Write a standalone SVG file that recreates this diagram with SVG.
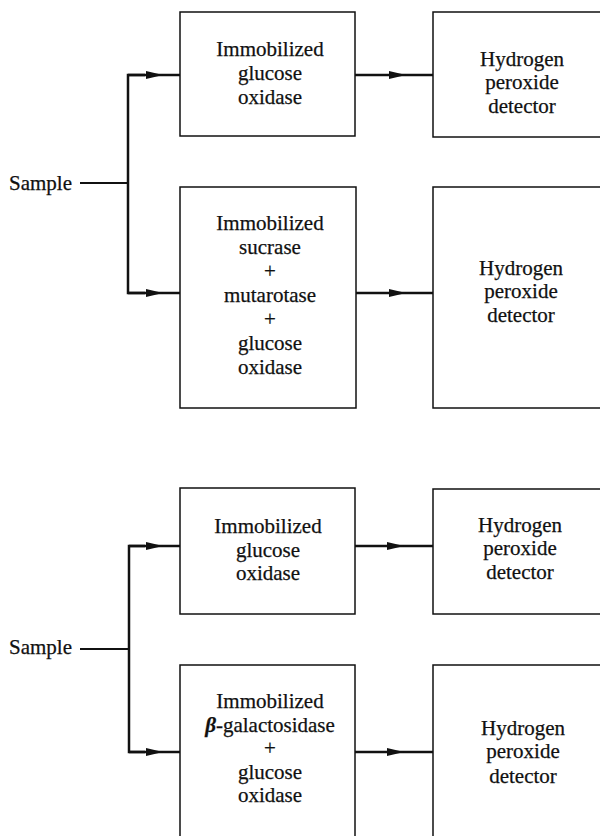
<svg xmlns="http://www.w3.org/2000/svg" width="600" height="836" viewBox="0 0 600 836">
<style>
.box{fill:none;stroke:#111;stroke-width:1.5}
.t{font-family:"Liberation Serif","Times New Roman",serif;font-size:21px;fill:#111;stroke:#111;stroke-width:0.25;text-anchor:middle}
.s{font-family:"Liberation Serif","Times New Roman",serif;font-size:21px;fill:#111;stroke:#111;stroke-width:0.25}
.c{fill:none;stroke:#111;stroke-width:2.5}
.l{fill:none;stroke:#111;stroke-width:1.8}
</style>
<defs>
<marker id="ah" markerWidth="18" markerHeight="8" refX="17" refY="4" orient="auto" markerUnits="userSpaceOnUse">
<path d="M0,0 L17,4 L0,8 Z" fill="#111"/>
</marker>
</defs>
<rect width="600" height="836" fill="#fff"/>

<g id="sample1"><text class="s" x="9" y="190">Sample</text></g>
<g id="enz1"><rect class="box" x="180" y="12" width="175" height="124"/>
<text class="t" x="270" y="56">Immobilized</text><text class="t" x="270" y="80">glucose</text><text class="t" x="270" y="104">oxidase</text></g>
<g id="det1"><rect class="box" x="433" y="12" width="180" height="125"/>
<text class="t" x="522" y="66">Hydrogen</text><text class="t" x="522" y="89">peroxide</text><text class="t" x="522" y="113">detector</text></g>
<g id="enz2"><rect class="box" x="180" y="187" width="176" height="221"/>
<text class="t" x="270" y="230">Immobilized</text><text class="t" x="270" y="254">sucrase</text><text class="t" x="270" y="278">+</text><text class="t" x="270" y="302">mutarotase</text><text class="t" x="270" y="326">+</text><text class="t" x="270" y="350">glucose</text><text class="t" x="270" y="374">oxidase</text></g>
<g id="det2"><rect class="box" x="433" y="187" width="180" height="221"/>
<text class="t" x="521" y="275">Hydrogen</text><text class="t" x="521" y="298">peroxide</text><text class="t" x="521" y="322">detector</text></g>

<g id="sample2"><text class="s" x="9" y="654">Sample</text></g>
<g id="enz3"><rect class="box" x="180" y="488" width="175" height="126"/>
<text class="t" x="268" y="533">Immobilized</text><text class="t" x="268" y="557">glucose</text><text class="t" x="268" y="580">oxidase</text></g>
<g id="det3"><rect class="box" x="433" y="489" width="180" height="125"/>
<text class="t" x="520" y="532">Hydrogen</text><text class="t" x="520" y="555">peroxide</text><text class="t" x="520" y="579">detector</text></g>
<g id="enz4"><rect class="box" x="180" y="665" width="175" height="190"/>
<text class="t" x="270" y="708">Immobilized</text><text class="t" x="270" y="732"><tspan font-weight="bold" font-style="italic">β</tspan>-galactosidase</text><text class="t" x="270" y="755">+</text><text class="t" x="270" y="779">glucose</text><text class="t" x="270" y="802">oxidase</text></g>
<g id="det4"><rect class="box" x="433" y="665" width="180" height="190"/>
<text class="t" x="523" y="735">Hydrogen</text><text class="t" x="523" y="758">peroxide</text><text class="t" x="523" y="783">detector</text></g>

<g id="connectors">
<path class="l" d="M80,183 H128"/>
<path class="c" d="M145,75 H128 V293 H145"/>
<path class="c" d="M128,75 H163" marker-end="url(#ah)"/>
<path class="c" d="M163,75 H180"/>
<path class="c" d="M128,293 H163" marker-end="url(#ah)"/>
<path class="c" d="M163,293 H180"/>
<path class="c" d="M355,75 H406" marker-end="url(#ah)"/>
<path class="c" d="M406,75 H433"/>
<path class="c" d="M356,293 H406" marker-end="url(#ah)"/>
<path class="c" d="M406,293 H433"/>

<path class="l" d="M80,649 H129"/>
<path class="c" d="M145,546 H129 V752 H145"/>
<path class="c" d="M129,546 H163" marker-end="url(#ah)"/>
<path class="c" d="M163,546 H180"/>
<path class="c" d="M129,752 H163" marker-end="url(#ah)"/>
<path class="c" d="M163,752 H180"/>
<path class="c" d="M355,546 H404" marker-end="url(#ah)"/>
<path class="c" d="M404,546 H433"/>
<path class="c" d="M355,752 H404" marker-end="url(#ah)"/>
<path class="c" d="M404,752 H433"/>
</g>
</svg>
